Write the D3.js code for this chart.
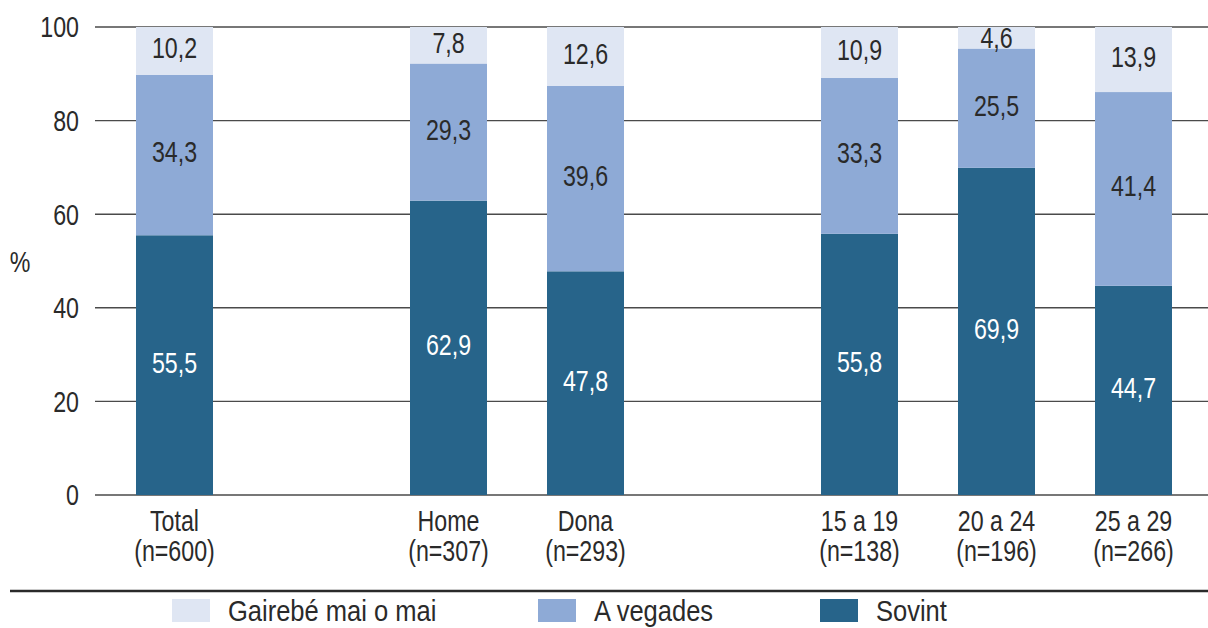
<!DOCTYPE html>
<html><head><meta charset="utf-8">
<script src="https://cdn.jsdelivr.net/npm/d3@7"></script>
<style>
html,body{margin:0;padding:0;background:#fff;}
svg text{font-family:"Liberation Sans Narrow","Liberation Sans",Arial,sans-serif;}
</style></head>
<body><svg id="c" width="1208" height="628"></svg>
<script>
const slots = ["Total","_gap1","Home","Dona","_gap2","15 a 19","20 a 24","25 a 29"];
const categories = ["Total","Home","Dona","15 a 19","20 a 24","25 a 29"];
const sizes = ["(n=600)","(n=307)","(n=293)","(n=138)","(n=196)","(n=266)"];
const sovint = [55.5,62.9,47.8,55.8,69.9,44.7];
const aVegades = [34.3,29.3,39.6,33.3,25.5,41.4];
const gairebe = [10.2,7.8,12.6,10.9,4.6,13.9];
const seriesNames = ["Gairebé mai o mai","A vegades","Sovint"];
const yTicks = [0,20,40,60,80,100];

const colors = {"Sovint":"#27648a","A vegades":"#8eaad6","Gairebé mai o mai":"#dfe6f3"};
const labelColors = {"Sovint":"#ffffff","A vegades":"#2a2a2a","Gairebé mai o mai":"#2a2a2a"};
const FS = 29, SX = 0.8, SXL = 0.88;

const svg = d3.select("#c");
const y = d3.scaleLinear().domain([0,100]).range([495,27]);
const x = d3.scaleBand().domain(slots).range([106,1202]).paddingInner(0.438).paddingOuter(0.219);

function ctext(parent, px, py, str, anchor, fill, sx){
  return parent.append("text")
    .attr("transform",`translate(${px},${py}) scale(${sx},1)`)
    .attr("dy","0.36em").attr("text-anchor",anchor)
    .attr("font-size",FS).attr("fill",fill).text(str);
}

// gridlines
svg.append("g").selectAll("line").data(yTicks).join("line")
  .attr("x1",95).attr("x2",1208).attr("y1",d=>y(d)).attr("y2",d=>y(d))
  .attr("stroke","#4a4a4a").attr("stroke-width",1.4);

// y tick labels
const yl = svg.append("g");
yTicks.forEach(t=>ctext(yl,79,y(t),t,"end","#2a2a2a",SX));
ctext(svg,20,262,"%","middle","#2a2a2a",SX);

// stacked data
const rows = categories.map((c,i)=>({cat:c,"Sovint":sovint[i],"A vegades":aVegades[i],"Gairebé mai o mai":gairebe[i]}));
const stackOrder = ["Sovint","A vegades","Gairebé mai o mai"];
const stacked = d3.stack().keys(stackOrder)(rows);

const g = svg.append("g");
stacked.forEach(s=>{
  const key = s.key;
  g.selectAll(null).data(s).join("rect")
    .attr("x",d=>x(d.data.cat)).attr("width",x.bandwidth())
    .attr("y",d=>y(Math.min(d[1],100))).attr("height",d=>y(d[0])-y(Math.min(d[1],100)))
    .attr("fill",colors[key]);
});
const lg0 = svg.append("g");
stacked.forEach(s=>{
  const key = s.key;
  s.forEach(d=>{
    const top = Math.min(d[1],100);
    let cy = y((d[0]+top)/2) - 3;
    if (top - d[0] < 6) cy = y((d[0]+top)/2);
    ctext(lg0, x(d.data.cat)+x.bandwidth()/2, cy,
      d3.format(".1f")(d.data[key]).replace(".",","), "middle", labelColors[key], SX);
  });
});

// x labels
const xl = svg.append("g");
categories.forEach((c,i)=>{
  const cx = x(c)+x.bandwidth()/2;
  ctext(xl,cx,521,c,"middle","#2a2a2a",SX);
  ctext(xl,cx,551,sizes[i],"middle","#2a2a2a",SX);
});

// bottom rule
svg.append("line").attr("x1",10).attr("x2",1208).attr("y1",591).attr("y2",591)
  .attr("stroke","#2a2a2a").attr("stroke-width",2.5);

// legend
const legX = [172,538,820];
const lg = svg.append("g");
seriesNames.forEach((n,i)=>{
  lg.append("rect").attr("x",legX[i]).attr("y",599).attr("width",38).attr("height",23).attr("fill",colors[n]);
  ctext(lg,legX[i]+56,611,n,"start","#2a2a2a",SXL);
});
</script></body></html>
